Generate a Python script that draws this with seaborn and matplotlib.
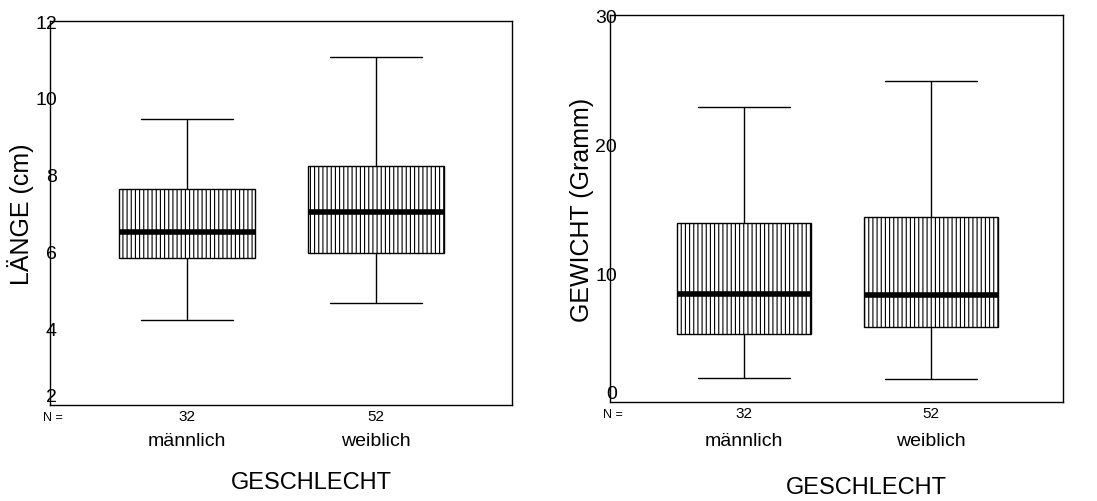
import numpy as np
import pandas as pd
import matplotlib
matplotlib.use("Agg")
import matplotlib.pyplot as plt
import seaborn as sns

# Kennwerte je Gruppe: Minimum, Q1, Median, Q3, Maximum
geschlecht = ["männlich", "weiblich"]
n_werte = [32, 52]

laenge_maennlich = [4.22, 5.83, 6.50, 7.64, 9.44]
laenge_weiblich = [4.65, 5.95, 7.03, 8.22, 11.07]

gewicht_maennlich = [1.86, 5.31, 8.38, 13.88, 22.90]
gewicht_weiblich = [1.80, 5.80, 8.30, 14.32, 24.89]

laenge_ticks = [2, 4, 6, 8, 10, 12]
gewicht_ticks = [0, 10, 20, 30]


def tabelle(werte_m, werte_w, spalte):
    return pd.DataFrame({
        "GESCHLECHT": [geschlecht[0]] * len(werte_m) + [geschlecht[1]] * len(werte_w),
        spalte: werte_m + werte_w,
    })


def spss_boxplot(ax, df, spalte, ylabel, ticks, xlim, xlabel_pos, name_y):
    sns.boxplot(
        data=df, x="GESCHLECHT", y=spalte, order=geschlecht, ax=ax,
        whis=(0, 100), width=0.72, color="white", linecolor="black",
        linewidth=1.0, showfliers=False,
        medianprops={"linewidth": 4.0, "color": "black", "solid_capstyle": "butt"},
        capprops={"gid": "cap"},
    )
    for p in ax.patches:
        p.set_hatch("||||")
        p.set_edgecolor("black")
        p.set_facecolor("white")
    # SPSS-Kappen etwas breiter
    for ln in ax.lines:
        if ln.get_gid() == "cap":
            xd = np.asarray(ln.get_xdata(), dtype=float)
            mitte = xd.mean()
            ln.set_xdata([mitte - 0.245, mitte + 0.245])

    ax.set_xlim(*xlim)
    ax.set_ylim(ticks[0], ticks[-1])
    ax.set_yticks(ticks)
    ax.set_yticklabels([str(t) for t in ticks], fontsize=14)
    ax.get_yticklabels()[0].set_va("bottom")
    ax.tick_params(axis="y", length=0, pad=-5)
    ax.set_xticks(range(len(geschlecht)))
    ax.set_xticklabels([str(n) for n in n_werte], fontsize=11)
    ax.tick_params(axis="x", length=3, width=1.5, direction="out", pad=0)
    ax.set_ylabel(ylabel, fontsize=18, labelpad=1)
    ax.set_xlabel("GESCHLECHT", fontsize=17)
    ax.xaxis.label.set_va("center")
    ax.xaxis.set_label_coords(*xlabel_pos)

    trans = ax.get_xaxis_transform()
    for i, g in enumerate(geschlecht):
        ax.text(i, name_y, g, transform=trans, ha="center", va="center", fontsize=14)
    ax.text(-0.015, -0.03, "N =", transform=ax.transAxes, ha="left", va="center", fontsize=9)

    for sp in ax.spines.values():
        sp.set_visible(True)
        sp.set_color("black")
        sp.set_linewidth(1.0)


sns.set_style("white")
plt.rcParams["font.family"] = ["Liberation Sans", "DejaVu Sans"]
plt.rcParams["text.color"] = "black"
plt.rcParams["axes.labelcolor"] = "black"
plt.rcParams["xtick.color"] = "black"
plt.rcParams["ytick.color"] = "black"
plt.rcParams["hatch.color"] = "black"
plt.rcParams["hatch.linewidth"] = 0.8

fig = plt.figure(figsize=(10.97, 5.02), dpi=100)
ax1 = fig.add_axes([0.0456, 0.191, 0.421, 0.765])
ax2 = fig.add_axes([0.556, 0.197, 0.413, 0.771])

df_laenge = tabelle(laenge_maennlich, laenge_weiblich, "LAENGE")
df_gewicht = tabelle(gewicht_maennlich, gewicht_weiblich, "GEWICHT")

spss_boxplot(ax1, df_laenge, "LAENGE", "LÄNGE (cm)", laenge_ticks,
             (-0.725, 1.72), (0.565, -0.20), -0.091)
spss_boxplot(ax2, df_gewicht, "GEWICHT", "GEWICHT (Gramm)", gewicht_ticks,
             (-0.717, 1.706), (0.565, -0.22), -0.098)

fig.savefig("out.png", dpi=100)
plt.close(fig)
